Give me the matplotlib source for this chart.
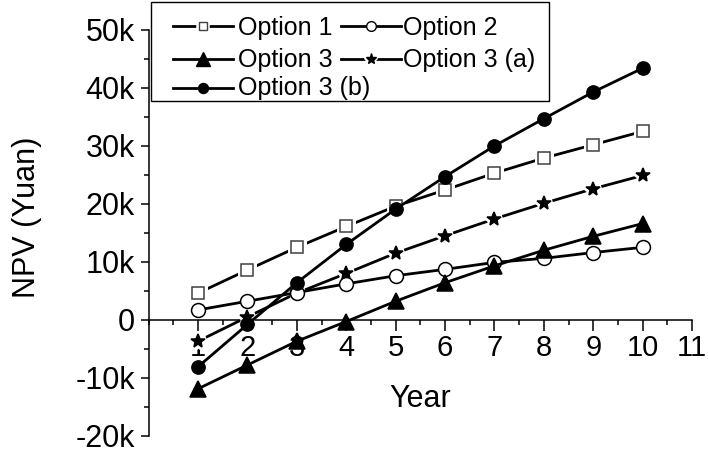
import matplotlib
matplotlib.use("Agg")
import matplotlib.pyplot as plt
from matplotlib.lines import Line2D
from matplotlib.patches import Rectangle
from matplotlib.ticker import MultipleLocator, FuncFormatter

plt.rcParams['font.family'] = ['Liberation Sans', 'DejaVu Sans']

# NPV per year (Yuan)
years = [1, 2, 3, 4, 5, 6, 7, 8, 9, 10]
option_1 = [4600, 8600, 12500, 16100, 19600, 22400, 25300, 27900, 30200, 32500]
option_2 = [1700, 3200, 4700, 6200, 7600, 8700, 9900, 10600, 11600, 12500]
option_3 = [-11900, -7800, -3700, -300, 3200, 6400, 9300, 12000, 14400, 16600]
option_3a = [-3700, 500, 4600, 8000, 11500, 14500, 17400, 20100, 22600, 24900]
option_3b = [-8100, -800, 6400, 13000, 19100, 24700, 30000, 34700, 39300, 43400]

labels = ["Option 1", "Option 2", "Option 3", "Option 3 (a)", "Option 3 (b)"]
series = [option_1, option_2, option_3, option_3a, option_3b]

# marker, face, edge, size in plot, size in legend, gap round marker, zorder
styles = [
    ('s', 'white', '#404040', 8.9, 6.2, True, 3),
    ('o', 'white', 'black', 10, 7, False, 5),
    ('^', 'black', 'black', 11, 10, False, 6),
    ('*', 'black', 'black', 10.5, 8, True, 4),
    ('o', 'black', 'black', 9.5, 7.2, False, 7),
]
LW = 2.0

W, H = 708, 449
fig = plt.figure(figsize=(W / 100, H / 100), dpi=100)
ax = fig.add_axes([0.21, 0.0296, 0.7675, 0.9037])

for vals, (mk, fc, ec, ms, lms, gap, z) in zip(series, styles):
    ax.plot(years, vals, '-', color='black', lw=LW, zorder=z)
    if gap:
        ax.plot(years, vals, ls='none', marker=mk, ms=ms, mfc='white',
                mec='white', mew=5, zorder=z + 0.1)
    ax.plot(years, vals, ls='none', marker=mk, ms=ms, mfc=fc, mec=ec,
            mew=1.1, zorder=z + 0.2)

ax.set_xlim(0, 11)
ax.set_ylim(-20000, 50000)

ax.spines['top'].set_visible(False)
ax.spines['right'].set_visible(False)
ax.spines['bottom'].set_position(('data', 0))
for s in ('left', 'bottom'):
    ax.spines[s].set_linewidth(1.1)

ax.set_xticks(range(1, 12))
ax.xaxis.set_minor_locator(MultipleLocator(0.5))
ax.yaxis.set_major_locator(MultipleLocator(10000))
ax.yaxis.set_minor_locator(MultipleLocator(5000))
ax.yaxis.set_major_formatter(
    FuncFormatter(lambda v, p: '0' if v == 0 else f'{int(v / 1000)}k'))

ax.tick_params(axis='both', which='major', direction='out', width=1.1)
ax.tick_params(axis='x', which='major', length=8, pad=2, labelsize=21)
ax.tick_params(axis='y', which='major', length=6, pad=4, labelsize=22)
ax.tick_params(axis='both', which='minor', direction='out', length=3.5,
               width=1.1)

ax.set_ylabel("NPV (Yuan)", fontsize=22)
ax.yaxis.set_label_coords(-0.196, 0.538)
ax.set_xlabel("Year", fontsize=22)
ax.xaxis.set_label_coords(0.5, 0.128)


# legend drawn by hand, Origin style (rows flow left to right)
def fx(px):
    return px / W


def fy(py):
    return 1 - py / H


fig.add_artist(Rectangle((fx(151), fy(101)), fx(549) - fx(151),
                         fy(1.5) - fy(101), transform=fig.transFigure,
                         facecolor='white', edgecolor='black', lw=1.0,
                         zorder=10))

# (label index, handle left px, text left px, baseline px, line px)
legend_rows = [
    (0, 173, 238.5, 35, 26),
    (1, 341, 403, 35, 26),
    (2, 173, 238.5, 66.7, 59),
    (3, 341, 403, 66.7, 59),
    (4, 173, 238.5, 95, 88),
]
for i, hx, tx, by, ly in legend_rows:
    mk, fc, ec, ms, lms, gap, z = styles[i]
    x0, x1 = fx(hx), fx(hx + 60)
    fig.add_artist(Line2D([x0, x1], [fy(ly), fy(ly)], color='black', lw=LW,
                          transform=fig.transFigure, zorder=11))
    if gap:
        fig.add_artist(Line2D([(x0 + x1) / 2], [fy(ly)], ls='none', marker=mk,
                              ms=lms, mfc='white', mec='white', mew=4,
                              transform=fig.transFigure, zorder=11.1))
    fig.add_artist(Line2D([(x0 + x1) / 2], [fy(ly)], ls='none', marker=mk,
                          ms=lms, mfc=fc, mec=ec, mew=1,
                          transform=fig.transFigure, zorder=11.2))
    fig.text(fx(tx), fy(by), labels[i], fontsize=18, va='baseline',
             ha='left', zorder=12)

fig.savefig("out.png", dpi=100)
